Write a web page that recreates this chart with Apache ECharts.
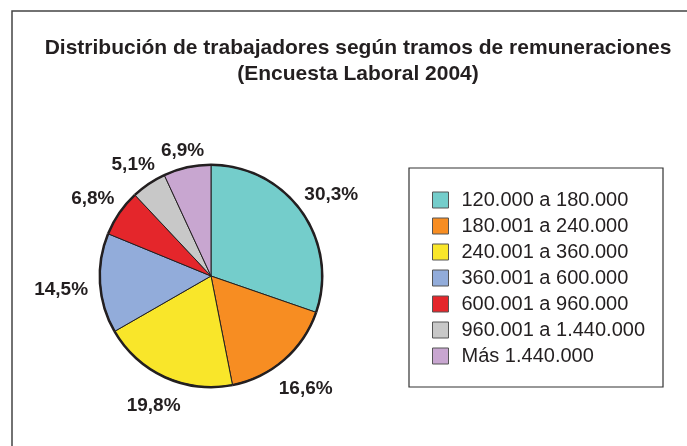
<!DOCTYPE html>
<html>
<head>
<meta charset="utf-8">
<script src="https://cdn.jsdelivr.net/npm/echarts@6/dist/echarts.min.js"></script>
<style>
  html, body { margin: 0; padding: 0; background: #fff; }
  #chart { width: 687px; height: 446px; }
</style>
</head>
<body>
<div id="chart"></div>
<script>
// tramos de remuneraciones (pesos) y porcentaje de trabajadores
const tramos = [
  '120.000 a 180.000',
  '180.001 a 240.000',
  '240.001 a 360.000',
  '360.001 a 600.000',
  '600.001 a 960.000',
  '960.001 a 1.440.000',
  'Más 1.440.000'
];
const porcentajes = [30.3, 16.6, 19.8, 14.5, 6.8, 5.1, 6.9];
const colores = ['#74cdcb', '#f78d22', '#f9e62a', '#92acda', '#e4262b', '#c8c8c8', '#c8a6d0'];

const CENTRO = [211, 276];
const RADIO = 111;

const chart = echarts.init(document.getElementById('chart'));

const datos = tramos.map((t, i) => ({
  name: t,
  value: porcentajes[i],
  itemStyle: { color: colores[i] }
}));

const total = porcentajes.reduce((a, b) => a + b, 0);

// centra cada etiqueta sobre la bisectriz de su sector, fuera del círculo
function ubicarEtiqueta(params) {
  if (params.seriesIndex !== 0) return;
  const i = params.dataIndex;
  let acum = 0;
  for (let k = 0; k < i; k++) acum += porcentajes[k];
  const ang = (90 - (acum + porcentajes[i] / 2) / total * 360) * Math.PI / 180;
  const c = Math.cos(ang), s = Math.sin(ang);
  const w = params.labelRect.width, h = params.labelRect.height;
  const d = RADIO + 12 + Math.abs(c) * w / 2 + Math.abs(s) * h / 4;
  return {
    x: CENTRO[0] + d * c,
    y: CENTRO[1] - d * s + 4,
    align: 'center',
    verticalAlign: 'middle'
  };
}

chart.setOption({
  animation: false,
  title: {
    text: 'Distribución de trabajadores según tramos de remuneraciones\n(Encuesta Laboral 2004)',
    left: 353,
    top: 30,
    textAlign: 'center',
    textStyle: {
      fontFamily: 'Liberation Sans, Arial, sans-serif',
      fontWeight: 'bold',
      fontSize: 21,
      lineHeight: 26,
      color: '#231f20'
    }
  },
  legend: {
    orient: 'vertical',
    left: 409,
    top: 168,
    padding: [22, 18, 21, 23],
    borderColor: '#333',
    borderWidth: 1.2,
    itemWidth: 16,
    itemHeight: 16,
    itemGap: 6,
    icon: 'rect',
    selectedMode: false,
    itemStyle: { borderColor: '#555', borderWidth: 1 },
    textStyle: {
      fontFamily: 'Liberation Sans, Arial, sans-serif',
      fontSize: 20,
      color: '#231f20',
      padding: [0, 0, 0, 8]
    },
    data: tramos
  },
  graphic: [{
    type: 'polyline',
    shape: { points: [[12, 446], [12, 11], [687, 11]] },
    style: { stroke: '#444', lineWidth: 1.5, fill: null }
  }],
  series: [
    {
      type: 'pie',
      center: CENTRO,
      radius: RADIO,
      startAngle: 90,
      clockwise: true,
      silent: true,
      itemStyle: { borderColor: '#231f20', borderWidth: 1 },
      label: {
        show: true,
        position: 'outside',
        formatter: p => p.value.toFixed(1).replace('.', ',') + '%',
        fontFamily: 'Liberation Sans, Arial, sans-serif',
        fontWeight: 'bold',
        fontSize: 19,
        color: '#231f20'
      },
      labelLine: { show: false, length: 14, length2: 0 },
      labelLayout: ubicarEtiqueta,
      data: datos
    },
    {
      // contorno exterior más grueso
      type: 'pie',
      center: CENTRO,
      radius: [RADIO - 1, RADIO + 1.5],
      startAngle: 90,
      silent: true,
      label: { show: false },
      labelLine: { show: false },
      itemStyle: { color: '#231f20' },
      data: porcentajes
    }
  ]
});
</script>
</body>
</html>
